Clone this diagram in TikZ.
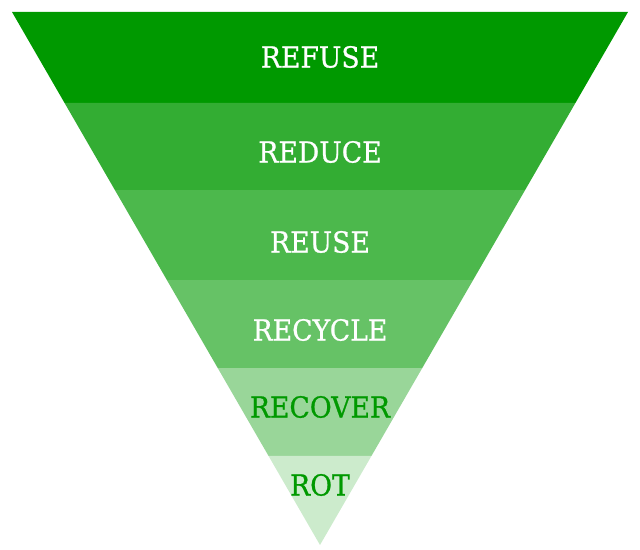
\documentclass[tikz,border=0pt]{standalone}
\usepackage{fontspec}
\setmainfont{DejaVu Serif}
\newfontfamily\lvlfont{DejaVu Serif}[FakeBold=0.8]
\usepackage{xcolor}
\usepackage{tikz}
\usetikzlibrary{calc}

\definecolor{leaf}{RGB}{0,153,0}
\newcommand{\lvltext}[1]{\scalebox{0.92}[1]{#1}}
\tikzset{
	lvl/.style={text=white,font=\lvlfont\fontsize{16.5}{20}\selectfont},
	lvllight/.style={lvl,text=leaf}
}

\begin{document}
\begin{tikzpicture}[x=0.02cm,y=-0.02cm]
\useasboundingbox (0,0) rectangle (640,550);
	%Triangle
	\coordinate (TL) at (12,12);
	\coordinate (TR) at (628,12);
	\coordinate (P) at (320,545);
	%bandes
	\foreach \a/\b/\op in {0/0.1707/100,0.1707/0.334/80,0.334/0.503/70,0.503/0.668/60,0.668/0.833/40,0.833/1/20}{
		\fill[leaf!\op!white] ($(TL)!\a!(P)$) -- ($(TR)!\a!(P)$) -- ($(TR)!\b!(P)$) -- ($(TL)!\b!(P)$) -- cycle;
	}
	%etiquettes
	\node[lvl] (refuse) at (320,57) {\lvltext{REFUSE}};
	\node[lvl] (reduce) at (320,152) {\lvltext{REDUCE}};
	\node[lvl] (reuse) at (320,242) {\lvltext{REUSE}};
	\node[lvl] (recycle) at (320,330) {\lvltext{RECYCLE}};
	\node[lvllight] (recover) at (320,407) {\lvltext{RECOVER}};
	\node[lvllight] (rot) at (320,485) {\lvltext{ROT}};
\end{tikzpicture}
\end{document}
